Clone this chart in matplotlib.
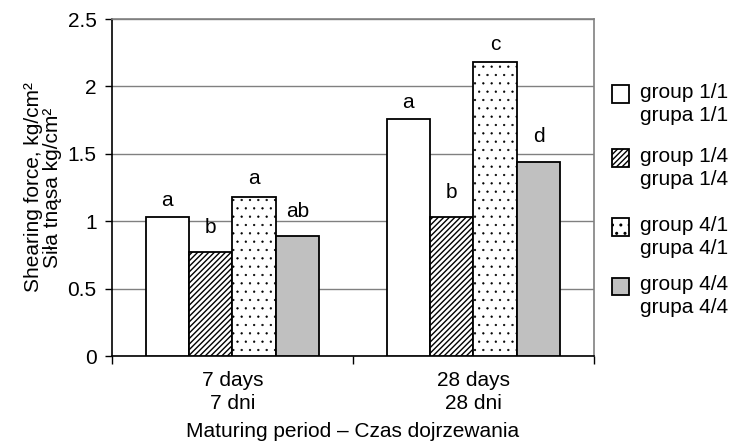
import matplotlib
matplotlib.use("Agg")
import matplotlib.pyplot as plt
from matplotlib.patches import Rectangle
import numpy as np

plt.rcParams['font.family'] = ['Liberation Sans', 'DejaVu Sans']

periods = ["7 days\n7 dni", "28 days\n28 dni"]
groups = ["group 1/1\ngrupa 1/1", "group 1/4\ngrupa 1/4",
          "group 4/1\ngrupa 4/1", "group 4/4\ngrupa 4/4"]
values = [[1.03, 1.76],   # group 1/1
          [0.77, 1.03],   # group 1/4
          [1.18, 2.18],   # group 4/1
          [0.89, 1.44]]   # group 4/4
letters = [["a", "a"], ["b", "b"], ["a", "c"], ["ab", "d"]]

fills = ["white", "white", "white", "#c0c0c0"]
hatches = [None, "//////", "..", None]
hatch_lw = [1.0, 1.0, 0.4, 1.0]
lab_off = [12, 18, 13, 18]   # points above bar top
FS = 15

fig = plt.figure(figsize=(7.3, 4.45), dpi=100)
ax = fig.add_axes([0.1534, 0.2, 0.6603, 0.7573])

x = np.arange(len(periods))
w = 0.18
for i in range(len(groups)):
    plt.rcParams['hatch.linewidth'] = hatch_lw[i]
    xs = x + (i - 1.5) * w
    ax.bar(xs, values[i], width=w, color=fills[i], hatch=hatches[i],
           edgecolor="black", linewidth=1.3, zorder=3)
    for xi, v, t in zip(xs, values[i], letters[i]):
        ax.annotate(t, (xi, v), xytext=(0, lab_off[i]), textcoords="offset points",
                    ha="center", va="center", fontsize=FS)

ax.set_xlim(-0.5, 1.5)
ax.set_ylim(0, 2.5)
ax.set_yticks(np.arange(0, 2.51, 0.5))
ax.set_yticklabels(["0", "0.5", "1", "1.5", "2", "2.5"], fontsize=FS)
ax.yaxis.grid(True, color="#808080", linewidth=1.0, zorder=0)
ax.set_axisbelow(True)
ax.tick_params(axis="y", length=5, width=1, direction="out", pad=6)

ax.set_xticks([-0.5, 0.5, 1.5])
ax.set_xticklabels([])
ax.set_xticks(x, minor=True)
ax.set_xticklabels(periods, minor=True, fontsize=FS, linespacing=1.23)
ax.tick_params(axis="x", which="major", length=6, width=1)
ax.tick_params(axis="x", which="minor", length=0, pad=11)

for s in ["left", "bottom"]:
    ax.spines[s].set_color("black")
    ax.spines[s].set_linewidth(1.2)
for s in ["top", "right"]:
    ax.spines[s].set_color("#808080")
    ax.spines[s].set_linewidth(1.2)

ax.set_ylabel("Shearing force, kg/cm²\nSiła tnąsa kg/cm²", fontsize=FS,
              linespacing=0.98, labelpad=4)
ax.set_xlabel("Maturing period – Czas dojrzewania", fontsize=FS, labelpad=7)

# legend drawn by hand: square aligned with first line of each label
plt.rcParams['hatch.linewidth'] = 1.0
leg_y = [94, 158, 227, 286]
for i, yy in enumerate(leg_y):
    fy = 1 - yy / 445
    fig.patches.append(Rectangle((612 / 730, fy - 8.5 / 445), 17 / 730, 17 / 445,
                                 transform=fig.transFigure, facecolor=fills[i],
                                 hatch=hatches[i], edgecolor="black", linewidth=1.3))
    fig.text(640 / 730, fy + 11 / 445, groups[i], fontsize=FS, va="top",
             ha="left", linespacing=1.28)

fig.savefig("out.png", dpi=100)
